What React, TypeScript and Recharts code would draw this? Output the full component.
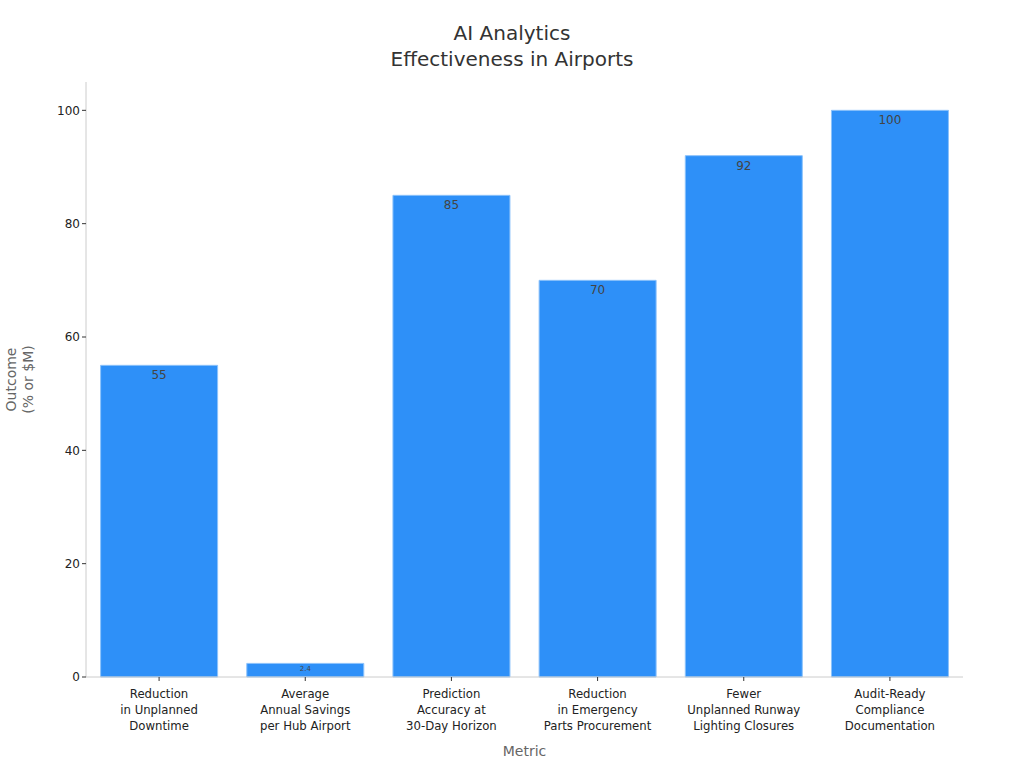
import React from "react";
import { BarChart, Bar, XAxis, YAxis, LabelList } from "recharts";

const metrics = [
  ["Reduction", "in Unplanned", "Downtime"],
  ["Average", "Annual Savings", "per Hub Airport"],
  ["Prediction", "Accuracy at", "30-Day Horizon"],
  ["Reduction", "in Emergency", "Parts Procurement"],
  ["Fewer", "Unplanned Runway", "Lighting Closures"],
  ["Audit-Ready", "Compliance", "Documentation"],
];
const outcomes = [55, 2.4, 85, 70, 92, 100];
const yTicks = [0, 20, 40, 60, 80, 100];

const data = metrics.map((lines, i) => ({
  key: lines.join(" "),
  lines,
  value: outcomes[i],
}));

const FONT = "DejaVu Sans, sans-serif";

const MetricTick = (props: any) => {
  const { x, y, payload, index } = props;
  const lines: string[] = data[index]?.lines ?? [payload.value];
  return (
    <text
      x={x}
      y={y + 3}
      textAnchor="middle"
      fontFamily="DejaVu Sans Condensed, DejaVu Sans, sans-serif"
      fontSize={13}
      fill="#222"
    >
      {lines.map((l, i) => (
        <tspan key={i} x={x} dy={i === 0 ? 12 : 16}>
          {l}
        </tspan>
      ))}
    </text>
  );
};

const ValueLabel = (props: any) => {
  const { x, y, width, value } = props;
  const small = value < 5;
  return (
    <text
      x={x + width / 2}
      y={y + (small ? 8 : 14)}
      textAnchor="middle"
      fontFamily={FONT}
      fontSize={small ? 7 : 12}
      fill="#444"
    >
      {value}
    </text>
  );
};

export default function App() {
  return (
    <div style={{ position: "absolute", left: 0, top: 0, background: "#fff" }}>
      <svg width={1024} height={80} style={{ position: "absolute", left: 0, top: 0 }}>
        <text x={512} y={40} textAnchor="middle" fontFamily={FONT} fontSize={20} fill="#333">
          AI Analytics
        </text>
        <text x={512} y={66} textAnchor="middle" fontFamily={FONT} fontSize={20} fill="#333">
          Effectiveness in Airports
        </text>
      </svg>
      <BarChart
        width={1024}
        height={768}
        data={data}
        margin={{ top: 82, right: 61, left: 86 - 65, bottom: 91 - 68 }}
        barCategoryGap="10%"
      >
        <XAxis
          dataKey="key"
          interval={0}
          height={68}
          tick={<MetricTick />}
          tickSize={4}
          axisLine={{ stroke: "#ccc" }}
          tickLine={{ stroke: "#333" }}
          label={(p: any) => {
            const vb = p.viewBox;
            return (
              <text
                x={vb.x + vb.width / 2}
                y={756}
                textAnchor="middle"
                fontFamily={FONT}
                fontSize={14}
                fill="#666"
              >
                Metric
              </text>
            );
          }}
        />
        <YAxis
          width={65}
          domain={[0, 105]}
          ticks={yTicks}
          tickSize={4}
          tick={{ fill: "#222", fontSize: 12, fontFamily: FONT }}
          axisLine={{ stroke: "#ccc" }}
          tickLine={{ stroke: "#333" }}
          label={(p: any) => {
            const vb = p.viewBox;
            const cx = 20;
            const cy = vb.y + vb.height / 2;
            return (
              <text
                transform={`rotate(-90 ${cx} ${cy})`}
                x={cx}
                y={cy}
                textAnchor="middle"
                fontFamily={FONT}
                fontSize={14}
                fill="#666"
              >
                <tspan x={cx} dy={-4}>Outcome</tspan>
                <tspan x={cx} dy={17}>(% or $M)</tspan>
              </text>
            );
          }}
        />
        <Bar
          dataKey="value"
          fill="#2E90F8"
          stroke="#8cc2fb"
          strokeWidth={1}
          isAnimationActive={false}
        >
          <LabelList dataKey="value" content={<ValueLabel />} />
        </Bar>
      </BarChart>
    </div>
  );
}
